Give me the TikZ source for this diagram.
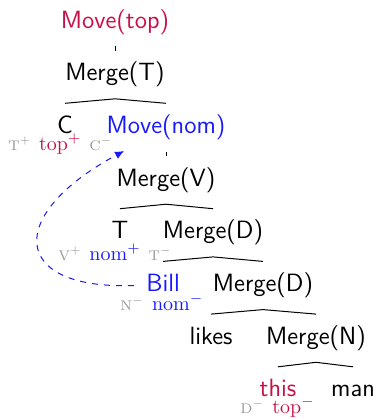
\documentclass[tikz,border=0pt]{standalone}
\usetikzlibrary{arrows.meta}
\definecolor{topc}{RGB}{200,16,72}
\definecolor{nomc}{RGB}{25,25,255}
\definecolor{featgray}{RGB}{150,150,150}
\newcommand\fsp{\hspace{4pt}}
\newcommand\fcap[2]{{\fontsize{7}{8}\selectfont #1$^{#2}$}}
\begin{document}
\begin{tikzpicture}[x=0.5pt,y=-0.5pt,
  lbl/.style={font=\fontsize{12.5}{15}\selectfont\sffamily, text height=9pt, text depth=3pt, inner xsep=0pt, inner ysep=5.85pt},
  feat/.style={anchor=base west, inner sep=0pt, font=\fontsize{10}{12}\selectfont\rmfamily, text=featgray},
  edge/.style={line width=0.5pt},
  movearrow/.style={draw=nomc, dashed, line width=0.5pt, -{Latex[length=4.5pt,width=4pt]}}]
\useasboundingbox (0,0) rectangle (376,419);
\node[lbl, text=topc] (movetop) at (115,22) {Move(top)};
\node[lbl] (mergeT) at (115,74.7) {Merge(T)};
\node[lbl] (C) at (65,127.4) {C};
\node[lbl, text=nomc] (movenom) at (166,127.4) {Move(nom)};
\node[lbl] (mergeV) at (166,180.1) {Merge(V)};
\node[lbl] (T) at (120,232.8) {T};
\node[lbl] (mergeD) at (213,232.8) {Merge(D)};
\node[lbl, text=nomc] (bill) at (163,285.5) {Bill};
\node[lbl] (mergeD2) at (263,285.5) {Merge(D)};
\node[lbl] (likes) at (211,338.2) {likes};
\node[lbl] (mergeN) at (316,338.2) {Merge(N)};
\node[lbl, text=topc] (this) at (278,390.9) {this};
\node[lbl] (man) at (353,390.9) {man};
\draw[edge] (movetop.south) -- (mergeT.north);
\draw[edge] (C.north) -- (mergeT.south) -- (movenom.north);
\draw[edge] (movenom.south) -- (mergeV.north);
\draw[edge] (T.north) -- (mergeV.south) -- (mergeD.north);
\draw[edge] (bill.north) -- (mergeD.south) -- (mergeD2.north);
\draw[edge] (likes.north) -- (mergeD2.south) -- (mergeN.north);
\draw[edge] (this.north) -- (mergeN.south) -- (man.north);
\node[feat] (fC) at (8,150) {\fcap{T}{+}\fsp{\color{topc}top$^{+}$}\fsp\fcap{C}{-}};
\node[feat] (fT) at (58,260) {\fcap{V}{+}\fsp{\color{nomc}nom$^{+}$}\fsp\fcap{T}{-}};
\node[feat] (fB) at (120,310) {\fcap{N}{-}\fsp{\color{nomc}nom$^{-}$}};
\node[feat] (fThis) at (240,413) {\fcap{D}{-}\fsp{\color{topc}top$^{-}$}};
\coordinate (tgt) at (124,151);
\path[movearrow] ([xshift=-6pt]bill.west) .. controls (10,290) and (5,215) .. (tgt);
\end{tikzpicture}
\end{document}
